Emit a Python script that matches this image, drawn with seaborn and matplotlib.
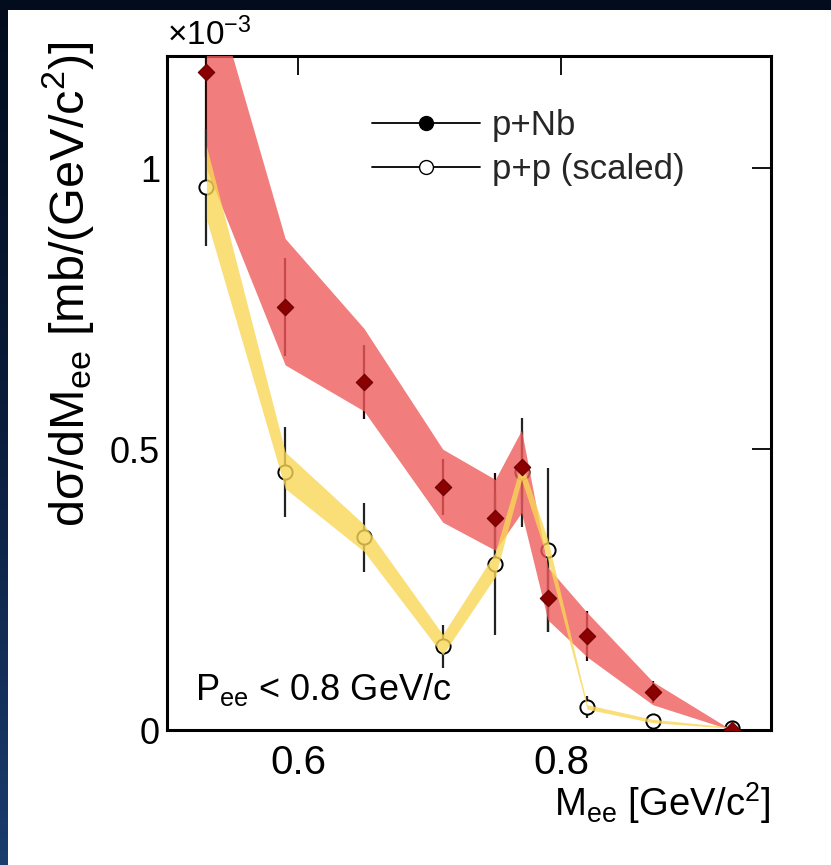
import numpy as np
import pandas as pd
import matplotlib
matplotlib.use("Agg")
import matplotlib.pyplot as plt
import seaborn as sns
from matplotlib.lines import Line2D
from matplotlib.patches import Rectangle
from matplotlib.colors import LinearSegmentedColormap

# ---------------- data (values in units of 1e-3 mb/(GeV/c^2)) ----------------
mass = [0.53, 0.59, 0.65, 0.71, 0.75, 0.77, 0.79, 0.82, 0.87, 0.93]

pnb = [1.171, 0.753, 0.619, 0.432, 0.377, 0.468, 0.235, 0.167, 0.068, 0.0]
pnb_err = [0.15, 0.088, 0.066, 0.05, 0.08, 0.065, 0.06, 0.045, 0.02, 0.005]
pnb_sys_hi = [1.36, 0.875, 0.715, 0.50, 0.446, 0.534, 0.29, 0.209, 0.086, 0.0]
pnb_sys_lo = [1.00, 0.65, 0.568, 0.37, 0.32, 0.387, 0.196, 0.13, 0.045, 0.0]

pp = [0.966, 0.459, 0.343, 0.149, 0.295, 0.459, 0.321, 0.041, 0.016, 0.004]
pp_err = [0.104, 0.08, 0.062, 0.038, 0.125, 0.097, 0.146, 0.02, 0.006, 0.004]
pp_sys_hi = [1.04, 0.495, 0.366, 0.17, 0.316, 0.477, 0.339, 0.045, 0.019, 0.005]
pp_sys_lo = [0.91, 0.43, 0.318, 0.134, 0.273, 0.446, 0.303, 0.037, 0.013, 0.003]

x_ticks = [0.6, 0.8]
x_tick_labels = ["0.6", "0.8"]
y_ticks = [0.0, 0.5, 1.0]
y_tick_labels = ["0", "0.5", "1"]

series_labels = ["p+Nb", "p+p (scaled)"]

df_nb = pd.DataFrame({"mass": mass, "val": pnb})
df_pp = pd.DataFrame({"mass": mass, "val": pp})

# ---------------- style ----------------
sns.set_theme(style="white")
plt.rcParams["font.family"] = ["Liberation Sans", "DejaVu Sans"]
plt.rcParams["mathtext.fontset"] = "custom"
plt.rcParams["mathtext.rm"] = "Liberation Sans"
plt.rcParams["mathtext.it"] = "Liberation Sans"
plt.rcParams["mathtext.bf"] = "Liberation Sans"
plt.rcParams["mathtext.default"] = "regular"

W, H = 831, 865
fig = plt.figure(figsize=(W / 100, H / 100), dpi=100)

# background: dark navy frame with gradient on left
bg = fig.add_axes([0, 0, 1, 1], zorder=-10)
grad = np.linspace(0, 1, 256).reshape(-1, 1)
cmap = LinearSegmentedColormap.from_list("bgc", ["#020c1c", "#0a1d3d", "#1a3d6e"])
bg.imshow(grad, aspect="auto", cmap=cmap, extent=[0, 1, 0, 1], origin="upper")
bg.add_patch(Rectangle((8 / W, 0), 1, (H - 10) / H, transform=bg.transAxes,
                       facecolor="white", edgecolor="none"))
bg.set_xlim(0, 1)
bg.set_ylim(0, 1)
bg.axis("off")

left, right, top, bottom = 167, 771, 56, 730
ax = fig.add_axes([left / W, (H - bottom) / H, (right - left) / W, (bottom - top) / H])
ax.set_facecolor("white")

red_band = "#ef5c5c"
yel_band = "#f9d656"

# error bars (drawn under the bands)
ax.errorbar(mass, pnb, yerr=pnb_err, fmt="none", ecolor="#2a0000",
            elinewidth=1.6, capsize=0, zorder=2)
ax.errorbar(mass, pp, yerr=pp_err, fmt="none", ecolor="#222222",
            elinewidth=1.6, capsize=0, zorder=2)

# p+p open markers (under the yellow band)
sns.scatterplot(data=df_pp, x="mass", y="val", ax=ax, marker="o", s=105,
                facecolor="white", edgecolor="black", linewidth=1.4, zorder=2.5,
                legend=False)

# systematic bands
ax.fill_between(mass, pnb_sys_lo, pnb_sys_hi, color=red_band, alpha=0.8,
                linewidth=0, zorder=3)
ax.fill_between(mass, pp_sys_lo, pp_sys_hi, color=yel_band, alpha=0.8,
                linewidth=0, zorder=3.2)

# p+Nb filled markers
sns.scatterplot(data=df_nb, x="mass", y="val", ax=ax, marker="D", s=70,
                color="#8b0000", edgecolor="#6a0000", linewidth=0.8, zorder=4,
                legend=False)

ax.set_xlim(0.5, 0.96)
ax.set_ylim(0, 1.2)
ax.set_xticks(x_ticks)
ax.set_xticklabels(x_tick_labels)
ax.set_yticks(y_ticks)
ax.set_yticklabels(y_tick_labels)
ax.tick_params(axis="both", direction="in", length=14, width=1.3, color="black",
               top=True, right=True, labelcolor="black")
ax.tick_params(axis="x", pad=10, labelsize=29)
ax.tick_params(axis="y", pad=5, labelsize=26)
for s in ax.spines.values():
    s.set_linewidth(2.2)
    s.set_color("black")
    s.set_visible(True)

ax.set_xlabel(r"$M_{ee}$ [GeV/c$^{2}$]", fontsize=27.5, loc="right", labelpad=-1,
              color="black")
ax.set_ylabel(r"d$\sigma$/d$M_{ee}$ [mb/(GeV/c$^{2}$)]", fontsize=35, loc="top",
              color="black")
ax.yaxis.set_label_coords(-0.118, 1.022)

ax.text(0.0, 1.006, r"$\times10^{-3}$", transform=ax.transAxes, fontsize=24,
        ha="left", va="bottom", color="black")

ax.text((195 - left) / (right - left), (bottom - 700) / (bottom - top),
        r"$P_{ee}$ < 0.8 GeV/c", transform=ax.transAxes, fontsize=26,
        ha="left", va="baseline", color="black")

handles = [
    Line2D([0], [0], color="black", lw=1.3, marker="o", markersize=10,
           markerfacecolor="black", markeredgecolor="black"),
    Line2D([0], [0], color="black", lw=1.3, marker="o", markersize=10,
           markerfacecolor="white", markeredgecolor="black"),
]
ax.legend(handles, series_labels, loc="upper left",
          bbox_to_anchor=((372 - left) / (right - left), (bottom - 109) / (bottom - top)),
          frameon=False, fontsize=25, handlelength=3.1, handletextpad=0.35,
          labelspacing=0.32, borderpad=0, borderaxespad=0)

fig.savefig("out.png", dpi=100, facecolor=fig.get_facecolor())
